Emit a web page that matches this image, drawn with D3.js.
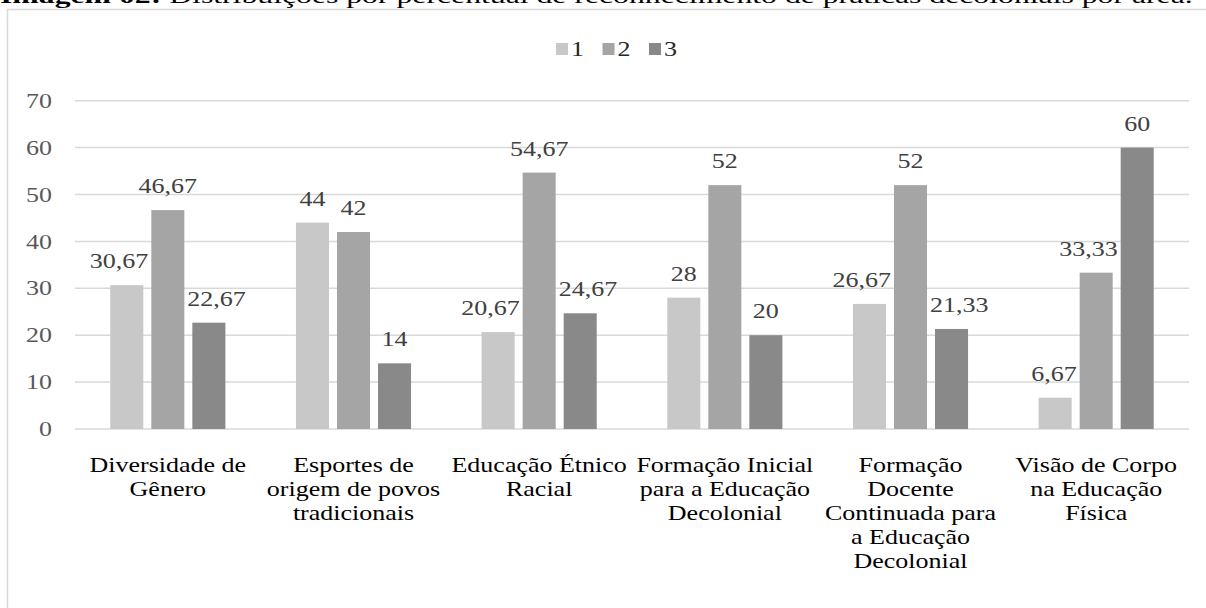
<!DOCTYPE html>
<html>
<head>
<meta charset="utf-8">
<script src="https://cdn.jsdelivr.net/npm/d3@7"></script>
<style>
  html, body { margin: 0; padding: 0; background: #fff; }
  svg { display: block; }
  svg text { font-family: 'Liberation Serif', 'Times New Roman', Times, serif; }
</style>
</head>
<body>
<svg id="chart" width="1206" height="608"></svg>
<script>
// ---- data ----
const titleBold = "Imagem 02:";
const titleRest = " Distribuições por percentual de reconhecimento de práticas decoloniais por área.";
const categories = [
  "Diversidade de\nGênero",
  "Esportes de\norigem de povos\ntradicionais",
  "Educação Étnico\nRacial",
  "Formação Inicial\npara a Educação\nDecolonial",
  "Formação\nDocente\nContinuada para\na Educação\nDecolonial",
  "Visão de Corpo\nna Educação\nFísica"
];
const seriesNames = ["1", "2", "3"];
const series1 = [30.67, 44, 20.67, 28, 26.67, 6.67];
const series2 = [46.67, 42, 54.67, 52, 52, 33.33];
const series3 = [22.67, 14, 24.67, 20, 21.33, 60];
const yTicks = [0, 10, 20, 30, 40, 50, 60, 70];
const seriesColors = ["#c8c8c8", "#a5a5a5", "#898989"];

const allSeries = [series1, series2, series3];
const FONT = "'Liberation Serif', 'Times New Roman', Times, serif";
const SX = 1.3; // the source picture is stretched horizontally

// ---- layout ----
const svg = d3.select("#chart");
const plot = { left: 75, right: 1189, top: 100.7, bottom: 429 };
const place = (x, y) => `translate(${x},${y}) scale(${SX},1)`;

// frame
svg.append("rect")
  .attr("x", 7.5).attr("y", 9.5)
  .attr("width", 1206).attr("height", 620)
  .attr("fill", "none").attr("stroke", "#d9d9d9").attr("stroke-width", 1.5);

// title (cut at the top, as in the source page), stretched to span the width
const title = svg.append("text")
  .attr("font-family", FONT)
  .attr("font-size", 20).attr("fill", "#000");
title.append("tspan").attr("font-weight", "bold").text(titleBold);
title.append("tspan").text(titleRest);
{
  const w = title.node().getComputedTextLength();
  title.attr("transform", `translate(0,3) scale(${1193 / w},1)`);
}

const x0 = d3.scaleBand().domain(d3.range(categories.length))
  .range([plot.left, plot.right]).paddingInner(0).paddingOuter(0);
const x1 = d3.scaleBand().domain(d3.range(seriesNames.length))
  .range([0, x0.bandwidth()]).paddingInner(0.195).paddingOuter(0.86);
const y = d3.scaleLinear().domain([0, 70]).range([plot.bottom, plot.top]);

// gridlines
svg.append("g").selectAll("line").data(yTicks).join("line")
  .attr("x1", plot.left).attr("x2", plot.right)
  .attr("y1", d => y(d)).attr("y2", d => y(d))
  .attr("stroke", "#d9d9d9").attr("stroke-width", 1.5);

// y axis labels
const yAxis = d3.axisLeft(y).tickValues(yTicks).tickSize(0).tickPadding(0)
  .tickFormat(d => String(d));
const yg = svg.append("g").attr("transform", `translate(52,0)`).call(yAxis)
  .attr("font-family", FONT).attr("font-size", 20);
yg.select(".domain").remove();
yg.selectAll("text").attr("font-size", 20).attr("fill", "#595959")
  .attr("font-family", FONT)
  .attr("x", 0)
  .attr("dy", "0.33em")
  .attr("transform", `scale(${SX},1)`);

// bars + labels per series
const fmt = v => String(v).replace(".", ",");
allSeries.forEach((vals, si) => {
  const g = svg.append("g");
  g.selectAll("rect").data(vals).join("rect")
    .attr("x", (d, ci) => x0(ci) + x1(si))
    .attr("y", d => y(d))
    .attr("width", x1.bandwidth())
    .attr("height", d => y(0) - y(d))
    .attr("fill", seriesColors[si]);
  const labels = g.selectAll("text").data(vals).join("text")
    .attr("font-family", FONT)
    .attr("font-size", 20).attr("fill", "#404040")
    .attr("text-anchor", "middle")
    .text(fmt);
  // centre above the bar, nudged away from taller neighbouring bars
  labels.each(function (d, ci) {
    const el = d3.select(this);
    const w = this.getComputedTextLength() * SX;
    const cx = x0(ci) + x1(si) + x1.bandwidth() / 2;
    const base = y(d) - 17;
    let shift = 0;
    if (si + 1 < allSeries.length && y(allSeries[si + 1][ci]) < base) {
      const edge = x0(ci) + x1(si + 1) - 3;
      const over = cx + w / 2 - edge;
      if (over > 0) shift -= Math.min(over, 10);
    }
    if (si - 1 >= 0 && y(allSeries[si - 1][ci]) < base) {
      const edge = x0(ci) + x1(si - 1) + x1.bandwidth() + 3;
      const over = edge - (cx - w / 2);
      if (over > 0) shift += Math.min(over, 10);
    }
    el.attr("transform", place(cx + shift, base));
  });
});

// category labels
const xg = svg.append("g");
categories.forEach((c, ci) => {
  const cx = x0(ci) + x0.bandwidth() / 2;
  const t = xg.append("text")
    .attr("font-family", FONT)
    .attr("text-anchor", "middle").attr("font-size", 20).attr("fill", "#000")
    .attr("transform", place(cx, 472));
  c.split("\n").forEach((line, li) => {
    t.append("tspan").attr("x", 0)
      .attr("dy", li === 0 ? 0 : 24).text(line);
  });
});

// legend
const legend = svg.append("g");
const legendStart = 556, legendStep = 46.5;
seriesNames.forEach((n, si) => {
  const lx = legendStart + si * legendStep;
  legend.append("rect").attr("x", lx).attr("y", 43).attr("width", 12).attr("height", 12)
    .attr("fill", seriesColors[si]);
  legend.append("text")
    .attr("font-family", FONT)
    .attr("transform", place(lx + 15, 56))
    .attr("font-size", 20).attr("fill", "#262626").text(n);
});
</script>
</body>
</html>
